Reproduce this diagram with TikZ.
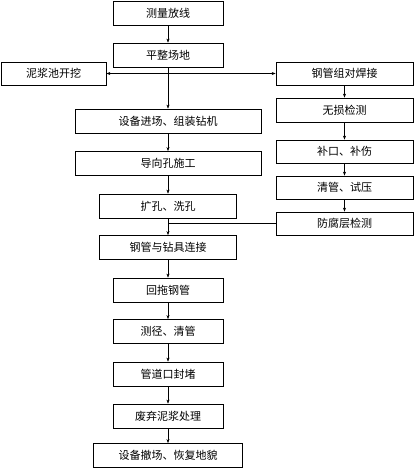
\documentclass[tikz,border=0pt]{standalone}
\usepackage{fontspec}
\newfontfamily\cjk{Noto Sans CJK SC}
\usetikzlibrary{arrows.meta}
\begin{document}
\begin{tikzpicture}[x=1pt, y=-1pt, >={Stealth[length=4pt,width=3pt]},
    stepbox/.style={draw, thick, inner sep=0pt, font=\cjk\fontsize{11}{11}\selectfont}]
    \useasboundingbox (0,0) rectangle (416,470);
    % main column
    \node[stepbox, minimum width=110pt, minimum height=24pt] (survey) at (168, 13) {测量放线};
    \node[stepbox, minimum width=110pt, minimum height=24pt] (level) at (168, 55) {平整场地};
    \node[stepbox, minimum width=186pt, minimum height=24pt] (setup) at (168, 121) {设备进场、组装钻机};
    \node[stepbox, minimum width=186pt, minimum height=24pt] (pilot) at (168, 163.5) {导向孔施工};
    \node[stepbox, minimum width=137pt, minimum height=24pt] (ream) at (168, 206) {扩孔、洗孔};
    \node[stepbox, minimum width=137pt, minimum height=24pt] (connect) at (168, 247.5) {钢管与钻具连接};
    \node[stepbox, minimum width=110pt, minimum height=24pt] (pull) at (168, 290) {回拖钢管};
    \node[stepbox, minimum width=110pt, minimum height=24pt] (gauge) at (168, 331.5) {测径、清管};
    \node[stepbox, minimum width=110pt, minimum height=24pt] (seal) at (168, 374) {管道口封堵};
    \node[stepbox, minimum width=110pt, minimum height=24pt] (slurry) at (168, 416) {废弃泥浆处理};
    \node[stepbox, minimum width=149pt, minimum height=24pt] (restore) at (168, 455.5) {设备撤场、恢复地貌};
    % side boxes
    \node[stepbox, minimum width=105pt, minimum height=23pt] (pit) at (53.5, 73.5) {泥浆池开挖};
    \node[stepbox, minimum width=137pt, minimum height=23pt] (weld) at (344.5, 73.5) {钢管组对焊接};
    \node[stepbox, minimum width=137pt, minimum height=24pt] (ndt) at (344.5, 110) {无损检测};
    \node[stepbox, minimum width=137pt, minimum height=23pt] (patch) at (344.5, 151.5) {补口、补伤};
    \node[stepbox, minimum width=137pt, minimum height=23pt] (clean) at (344.5, 187.5) {清管、试压};
    \node[stepbox, minimum width=137pt, minimum height=23pt] (coat) at (344.5, 223.5) {防腐层检测};
    \coordinate (join) at (ream.south |- coat.west);

    \draw[->] (survey) -- (level);
    \draw[->] (level) -- (setup);
    \draw[<->] (pit) -- (weld);
    \draw[->] (setup) -- (pilot);
    \draw[->] (pilot) -- (ream);
    \draw[->] (ream) -- (connect);
    \draw (coat.west) -- (join);
    \draw[->] (connect) -- (pull);
    \draw[->] (pull) -- (gauge);
    \draw[->] (gauge) -- (seal);
    \draw[->] (seal) -- (slurry);
    \draw[->] (slurry) -- (restore);
    \draw[->] (weld) -- (ndt);
    \draw[->] (ndt) -- (patch);
    \draw[->] (patch) -- (clean);
    \draw[->] (clean) -- (coat);
\end{tikzpicture}
\end{document}
